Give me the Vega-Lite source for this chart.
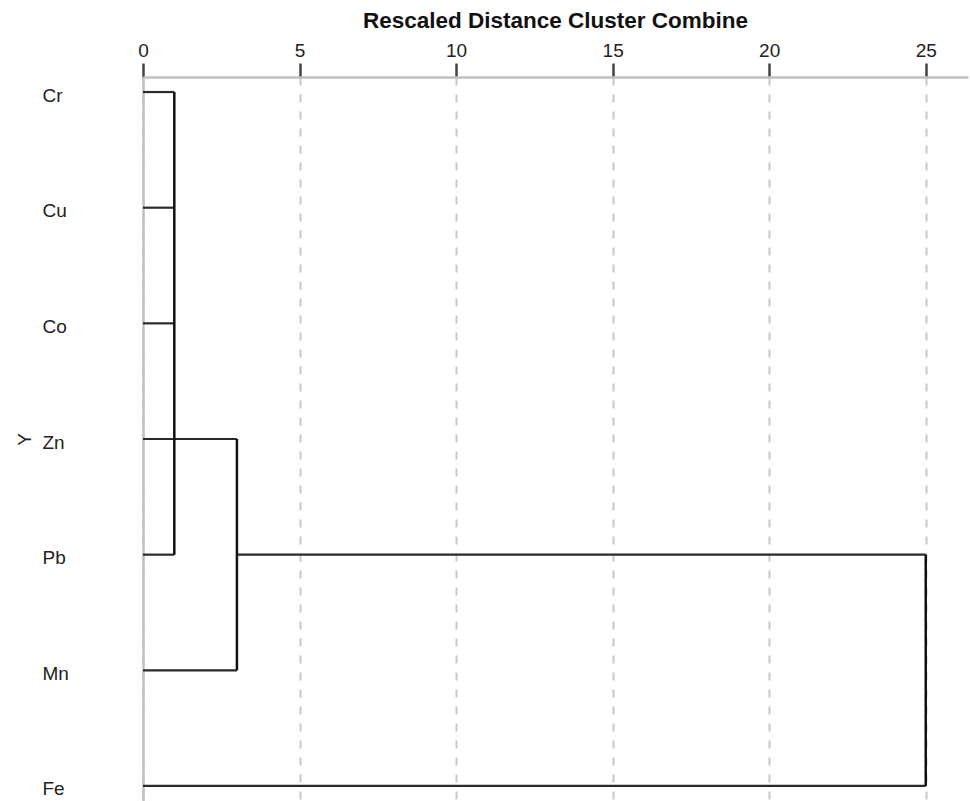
{
  "$schema": "https://vega.github.io/schema/vega-lite/v6.json",
  "width": 825,
  "height": 724,
  "autosize": {"type": "none"},
  "padding": {"left": 143, "top": 77, "right": 2, "bottom": 0},
  "background": "white",
  "config": {"view": {"stroke": null}, "font": "Liberation Sans"},
  "datasets": {
    "horizontal": [
      {"leaf": "Cr", "from": 0, "to": 1},
      {"leaf": "Cu", "from": 0, "to": 1},
      {"leaf": "Co", "from": 0, "to": 1},
      {"leaf": "Zn", "from": 0, "to": 3},
      {"leaf": "Pb", "from": 0, "to": 1},
      {"leaf": "Mn", "from": 0, "to": 3},
      {"leaf": "Pb", "from": 3, "to": 25},
      {"leaf": "Fe", "from": 0, "to": 25}
    ],
    "vertical": [
      {"height": 1, "top": "Cr", "bottom": "Pb"},
      {"height": 3, "top": "Zn", "bottom": "Mn"},
      {"height": 25, "top": "Pb", "bottom": "Fe"}
    ]
  },
  "layer": [
    {
      "data": {"name": "horizontal"},
      "mark": {"type": "rule", "color": "#2a2a2a", "strokeWidth": 2.2},
      "encoding": {
        "x": {
          "field": "from",
          "type": "quantitative",
          "title": "Rescaled Distance Cluster Combine",
          "scale": {"domain": [0, 26.35], "nice": false, "zero": false},
          "axis": {
            "orient": "top",
            "values": [0, 5, 10, 15, 20, 25],
            "grid": true,
            "gridDash": [8, 9],
            "gridColor": "#c8c8c8",
            "gridWidth": 2,
            "domainColor": "#c0c0c0",
            "domainWidth": 2.5,
            "tickColor": "#444444",
            "tickWidth": 2.5,
            "tickSize": 14,
            "labelFontSize": 19,
            "labelColor": "#222222",
            "labelPadding": 7,
            "labelBaseline": "alphabetic",
            "labelFlush": false,
            "labelOverlap": false,
            "titleFontSize": 22.5,
            "titleFontWeight": "bold",
            "titleColor": "#111111",
            "titleBaseline": "alphabetic",
            "titleAlign": "center",
            "titleX": 412,
            "titleY": -50
          }
        },
        "x2": {"field": "to"},
        "y": {
          "field": "leaf",
          "type": "nominal",
          "title": "Y",
          "scale": {"type": "point", "domain": ["Cr", "Cu", "Co", "Zn", "Pb", "Mn", "Fe"], "padding": 0.13},
          "axis": {
            "orient": "left",
            "grid": false,
            "ticks": false,
            "tickSize": 0,
            "domainColor": "#c0c0c0",
            "domainWidth": 2.5,
            "labelAlign": "left",
            "labelBaseline": "middle",
            "labelPadding": 101,
            "labelOffset": 3,
            "labelFontSize": 19,
            "labelColor": "#222222",
            "titleFontSize": 19,
            "titleFontWeight": "normal",
            "titleColor": "#222222",
            "titleAngle": -90,
            "titleAlign": "center",
            "titleBaseline": "alphabetic",
            "titleX": -113,
            "titleY": 362
          }
        }
      }
    },
    {
      "data": {"name": "vertical"},
      "mark": {"type": "rule", "color": "#111111", "strokeWidth": 2.5},
      "encoding": {
        "x": {"field": "height", "type": "quantitative", "title": "Rescaled Distance Cluster Combine"},
        "y": {"field": "top", "type": "nominal", "title": "Y"},
        "y2": {"field": "bottom"}
      }
    }
  ]
}
